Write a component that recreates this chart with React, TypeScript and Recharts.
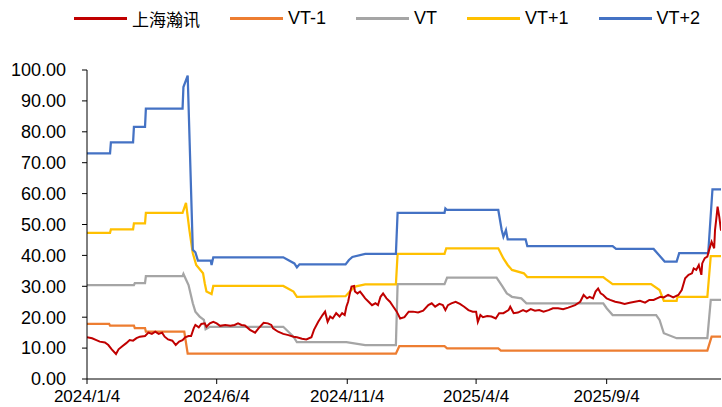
import { LineChart, Line, XAxis, YAxis } from "recharts";

// dates are "y/m/d", values in yuan
const hanxunPrice: [string, number][] = [
  ["2024/1/4", 13.5], ["2024/1/10", 13.2], ["2024/1/15", 12.6], ["2024/1/19", 12.1], ["2024/1/25", 11.8],
  ["2024/1/29", 11.0], ["2024/2/2", 9.6], ["2024/2/7", 8.1], ["2024/2/10", 9.6], ["2024/2/14", 10.5],
  ["2024/2/19", 11.6], ["2024/2/23", 12.6], ["2024/2/27", 12.4], ["2024/3/2", 13.2], ["2024/3/6", 13.7],
  ["2024/3/12", 13.9], ["2024/3/16", 15.0], ["2024/3/20", 14.6], ["2024/3/24", 15.3], ["2024/3/28", 14.6],
  ["2024/4/1", 15.0], ["2024/4/4", 13.7], ["2024/4/8", 12.8], ["2024/4/13", 12.4], ["2024/4/17", 11.0],
  ["2024/4/21", 12.1], ["2024/4/25", 12.6], ["2024/4/28", 13.5], ["2024/5/2", 13.9], ["2024/5/5", 13.9],
  ["2024/5/8", 16.4], ["2024/5/10", 17.5], ["2024/5/14", 16.7], ["2024/5/17", 17.8], ["2024/5/21", 18.0],
  ["2024/5/23", 16.9], ["2024/5/27", 18.0], ["2024/5/31", 18.5], ["2024/6/4", 18.0], ["2024/6/8", 17.2],
  ["2024/6/14", 17.5], ["2024/6/20", 17.2], ["2024/6/25", 17.5], ["2024/6/29", 18.0], ["2024/7/3", 17.5],
  ["2024/7/7", 17.3], ["2024/7/13", 15.9], ["2024/7/19", 15.0], ["2024/7/23", 16.4], ["2024/7/29", 18.2],
  ["2024/8/3", 18.0], ["2024/8/7", 17.5], ["2024/8/9", 16.4], ["2024/8/15", 15.3], ["2024/8/21", 14.6],
  ["2024/8/27", 14.2], ["2024/9/2", 13.7], ["2024/9/6", 13.5], ["2024/9/12", 13.0], ["2024/9/17", 12.8],
  ["2024/9/23", 13.5], ["2024/9/26", 15.9], ["2024/10/1", 18.5], ["2024/10/6", 20.7], ["2024/10/9", 21.8],
  ["2024/10/12", 18.5], ["2024/10/15", 20.2], ["2024/10/18", 19.6], ["2024/10/22", 21.3], ["2024/10/26", 20.2],
  ["2024/10/29", 21.3], ["2024/11/1", 20.7], ["2024/11/3", 23.4], ["2024/11/5", 25.0], ["2024/11/7", 27.7],
  ["2024/11/9", 29.9], ["2024/11/12", 30.1], ["2024/11/13", 28.3], ["2024/11/16", 27.7], ["2024/11/19", 28.3],
  ["2024/11/22", 27.2], ["2024/11/25", 26.1], ["2024/11/29", 25.0], ["2024/12/3", 23.9], ["2024/12/7", 24.5],
  ["2024/12/10", 23.9], ["2024/12/13", 26.6], ["2024/12/16", 27.7], ["2024/12/20", 26.1], ["2024/12/24", 25.0],
  ["2024/12/28", 23.4], ["2025/1/1", 21.8], ["2025/1/5", 19.6], ["2025/1/10", 20.0], ["2025/1/15", 21.8],
  ["2025/1/20", 21.8], ["2025/1/26", 21.5], ["2025/2/1", 22.1], ["2025/2/7", 23.9], ["2025/2/11", 24.5],
  ["2025/2/15", 23.4], ["2025/2/20", 24.3], ["2025/2/24", 23.9], ["2025/2/27", 22.3], ["2025/3/2", 23.9],
  ["2025/3/6", 24.5], ["2025/3/11", 25.0], ["2025/3/16", 24.3], ["2025/3/21", 23.4], ["2025/3/26", 22.3],
  ["2025/3/31", 21.8], ["2025/4/4", 21.8], ["2025/4/6", 18.5], ["2025/4/9", 20.7], ["2025/4/12", 20.0],
  ["2025/4/17", 20.4], ["2025/4/22", 20.2], ["2025/4/27", 19.6], ["2025/5/1", 21.3], ["2025/5/6", 21.3],
  ["2025/5/12", 22.3], ["2025/5/14", 23.4], ["2025/5/18", 21.3], ["2025/5/23", 21.5], ["2025/5/29", 22.3],
  ["2025/6/2", 21.8], ["2025/6/7", 22.6], ["2025/6/12", 22.1], ["2025/6/17", 22.3], ["2025/6/22", 21.8],
  ["2025/6/28", 22.3], ["2025/7/3", 22.9], ["2025/7/9", 22.9], ["2025/7/15", 22.6], ["2025/7/21", 23.1],
  ["2025/7/29", 23.9], ["2025/8/4", 25.0], ["2025/8/8", 27.2], ["2025/8/12", 26.1], ["2025/8/15", 26.6],
  ["2025/8/19", 26.1], ["2025/8/22", 28.3], ["2025/8/25", 29.3], ["2025/8/28", 27.7], ["2025/8/31", 27.2],
  ["2025/9/4", 26.1], ["2025/9/8", 25.6], ["2025/9/14", 25.0], ["2025/9/20", 24.7], ["2025/9/25", 24.3],
  ["2025/10/1", 24.7], ["2025/10/7", 25.0], ["2025/10/13", 25.3], ["2025/10/19", 24.7], ["2025/10/24", 25.6],
  ["2025/10/29", 25.6], ["2025/11/2", 26.1], ["2025/11/6", 26.6], ["2025/11/10", 26.4], ["2025/11/15", 27.2],
  ["2025/11/21", 26.4], ["2025/11/27", 27.2], ["2025/12/1", 28.8], ["2025/12/5", 32.6], ["2025/12/9", 33.7],
  ["2025/12/13", 34.2], ["2025/12/15", 35.8], ["2025/12/18", 35.3], ["2025/12/21", 36.9], ["2025/12/24", 33.7],
  ["2025/12/25", 37.4], ["2025/12/28", 39.1], ["2025/12/31", 39.6], ["2026/1/2", 41.7], ["2026/1/5", 44.4],
  ["2026/1/8", 42.3], ["2026/1/9", 48.2], ["2026/1/11", 53.1], ["2026/1/12", 55.8], ["2026/1/14", 52.5],
  ["2026/1/16", 48.0],
];

const vtMinus1: [string, number][] = [
  ["2024/1/4", 17.8], ["2024/1/30", 17.8], ["2024/1/31", 17.3], ["2024/2/28", 17.3], ["2024/2/29", 16.5],
  ["2024/3/12", 16.5], ["2024/3/13", 15.3], ["2024/4/27", 15.3], ["2024/5/1", 8.2], ["2024/12/31", 8.2],
  ["2025/1/4", 10.6], ["2025/2/26", 10.6], ["2025/3/1", 9.9], ["2025/4/30", 9.9], ["2025/5/3", 9.2],
  ["2025/12/31", 9.2], ["2026/1/5", 13.7], ["2026/1/16", 13.7],
];

const vt: [string, number][] = [
  ["2024/1/4", 30.4], ["2024/2/28", 30.4], ["2024/2/29", 31.0], ["2024/3/12", 31.0], ["2024/3/13", 33.3],
  ["2024/4/25", 33.3], ["2024/4/26", 34.0], ["2024/5/2", 30.4], ["2024/5/7", 24.5], ["2024/5/10", 21.8],
  ["2024/5/15", 20.2], ["2024/5/20", 19.1], ["2024/5/22", 16.1], ["2024/5/27", 16.9], ["2024/8/21", 16.9],
  ["2024/9/2", 13.7], ["2024/9/6", 11.9], ["2024/11/3", 11.9], ["2024/11/25", 11.0], ["2024/12/31", 11.0],
  ["2025/1/2", 30.7], ["2025/2/26", 30.7], ["2025/3/1", 32.8], ["2025/4/28", 32.8], ["2025/5/5", 29.9],
  ["2025/5/10", 27.7], ["2025/5/16", 26.6], ["2025/5/27", 26.1], ["2025/6/2", 24.5], ["2025/8/31", 24.5],
  ["2025/9/4", 22.9], ["2025/9/11", 20.7], ["2025/11/1", 20.7], ["2025/11/5", 19.1], ["2025/11/10", 14.8],
  ["2025/11/25", 13.2], ["2025/12/31", 13.2], ["2026/1/4", 25.6], ["2026/1/16", 25.6],
];

const vtPlus1: [string, number][] = [
  ["2024/1/4", 47.3], ["2024/1/31", 47.3], ["2024/2/1", 48.4], ["2024/2/27", 48.4], ["2024/2/28", 50.4],
  ["2024/3/12", 50.4], ["2024/3/13", 53.8], ["2024/4/25", 53.8], ["2024/4/29", 57.0], ["2024/5/3", 48.2],
  ["2024/5/7", 40.7], ["2024/5/11", 36.9], ["2024/5/19", 34.2], ["2024/5/21", 31.0], ["2024/5/23", 28.3],
  ["2024/5/29", 27.5], ["2024/5/31", 30.1], ["2024/8/21", 30.1], ["2024/9/2", 28.3], ["2024/9/6", 26.6],
  ["2024/11/2", 26.8], ["2024/11/7", 28.3], ["2024/11/13", 29.9], ["2024/11/25", 30.6], ["2024/12/31", 30.6],
  ["2025/1/2", 40.5], ["2025/2/26", 40.5], ["2025/2/28", 42.3], ["2025/4/30", 42.3], ["2025/5/6", 39.0],
  ["2025/5/11", 36.9], ["2025/5/16", 35.3], ["2025/5/30", 34.2], ["2025/6/3", 33.0], ["2025/8/31", 33.0],
  ["2025/9/3", 32.3], ["2025/9/11", 30.7], ["2025/10/26", 30.7], ["2025/11/5", 28.8], ["2025/11/10", 25.3],
  ["2025/11/25", 25.3], ["2025/11/26", 26.6], ["2025/12/31", 26.6], ["2026/1/4", 39.8], ["2026/1/16", 39.8],
];

const vtPlus2: [string, number][] = [
  ["2024/1/4", 73.0], ["2024/1/31", 73.0], ["2024/2/1", 76.6], ["2024/2/27", 76.6], ["2024/2/28", 81.6],
  ["2024/3/12", 81.6], ["2024/3/13", 87.5], ["2024/4/25", 87.5], ["2024/4/26", 94.5], ["2024/5/1", 98.2],
  ["2024/5/7", 41.8], ["2024/5/10", 41.0], ["2024/5/13", 38.3], ["2024/5/28", 38.3], ["2024/5/29", 36.9],
  ["2024/5/31", 39.4], ["2024/8/21", 39.4], ["2024/9/3", 37.4], ["2024/9/6", 36.1], ["2024/9/9", 37.1],
  ["2024/11/2", 37.1], ["2024/11/6", 38.5], ["2024/11/10", 39.5], ["2024/11/25", 40.5], ["2024/12/31", 40.5],
  ["2025/1/2", 53.8], ["2025/2/26", 53.8], ["2025/2/27", 55.2], ["2025/3/1", 54.7], ["2025/4/30", 54.7],
  ["2025/5/4", 48.2], ["2025/5/6", 46.0], ["2025/5/9", 48.2], ["2025/5/11", 45.2], ["2025/6/1", 45.2],
  ["2025/6/3", 43.0], ["2025/9/11", 43.0], ["2025/9/15", 42.1], ["2025/10/29", 42.1], ["2025/11/11", 38.0],
  ["2025/11/25", 38.0], ["2025/11/28", 40.7], ["2026/1/1", 40.7], ["2026/1/6", 61.4], ["2026/1/16", 61.4],
];

const xTickLabels = ["2024/1/4", "2024/6/4", "2024/11/4", "2025/4/4", "2025/9/4"];
const xStart = "2024/1/4";
const xEnd = "2026/1/16";
const yTicks = [0, 10, 20, 30, 40, 50, 60, 70, 80, 90, 100];

const toUtc = (s: string) => {
  const [y, m, d] = s.split("/").map(Number);
  return Date.UTC(y, m - 1, d);
};
const toDay = (s: string) => (toUtc(s) - toUtc(xStart)) / 86400000;
const rows = (pts: [string, number][]) => pts.map(([d, v]) => ({ day: toDay(d), v }));

const series = [
  { name: "上海瀚讯", color: "#C00000", pts: hanxunPrice, width: 2 },
  { name: "VT-1",    color: "#ED7D31", pts: vtMinus1,    width: 2.25 },
  { name: "VT",      color: "#A5A5A5", pts: vt,          width: 2.25 },
  { name: "VT+1",    color: "#FFC000", pts: vtPlus1,     width: 2.25 },
  { name: "VT+2",    color: "#4472C4", pts: vtPlus2,     width: 2.25 },
];

const font = "'Liberation Sans', Arial, sans-serif";
const yTickStyle = { fontSize: 18, fill: "#000", fontFamily: font };
const xTickStyle = { fontSize: 17, fill: "#000", fontFamily: font };
const tickDays = xTickLabels.map(toDay);

export default function App() {
  // red drawn last so it sits on top of the valuation bands
  const drawOrder = [...series.slice(1), series[0]];

  return (
    <div style={{ position: "relative", width: 722, height: 407, background: "#fff" }}>
      <style>{"body{margin:0}"}</style>

      {/* Legend */}
      <div style={{ position: "absolute", top: 6, left: 74, display: "flex", gap: 30, alignItems: "center", fontFamily: font, fontSize: 18, color: "#000" }}>
        {series.map((s) => (
          <div key={s.name} style={{ display: "flex", alignItems: "center", height: 24 }}>
            <span style={{ display: "inline-block", width: 53, height: 3, background: s.color, marginRight: 5 }} />
            <span style={{ fontFamily: s.name === "上海瀚讯" ? "'Noto Sans CJK SC', sans-serif" : font, fontSize: s.name === "上海瀚讯" ? 17 : 18 }}>
              {s.name}
            </span>
          </div>
        ))}
      </div>

      <LineChart width={722} height={407} margin={{ top: 70, right: 1, bottom: 0, left: 0 }}>
        <XAxis
          dataKey="day"
          type="number"
          domain={[0, toDay(xEnd)]}
          ticks={tickDays}
          tickFormatter={(d: number) => xTickLabels[tickDays.indexOf(d)] ?? ""}
          tick={xTickStyle}
          tickSize={5}
          tickMargin={6}
          height={28}
          axisLine={{ stroke: "#000", strokeWidth: 1 }}
          tickLine={{ stroke: "#000" }}
          allowDataOverflow
          interval={0}
        />
        <YAxis
          type="number"
          domain={[0, 100]}
          ticks={yTicks}
          tickFormatter={(v: number) => v.toFixed(2)}
          tick={yTickStyle}
          tickSize={5}
          tickMargin={16}
          width={87}
          axisLine={{ stroke: "#000", strokeWidth: 1 }}
          tickLine={{ stroke: "#000" }}
          interval={0}
        />
        {drawOrder.map((s) => (
          <Line
            key={s.name}
            data={rows(s.pts)}
            dataKey="v"
            name={s.name}
            type="linear"
            stroke={s.color}
            strokeWidth={s.width}
            dot={false}
            activeDot={false}
            isAnimationActive={false}
          />
        ))}
      </LineChart>
    </div>
  );
}
